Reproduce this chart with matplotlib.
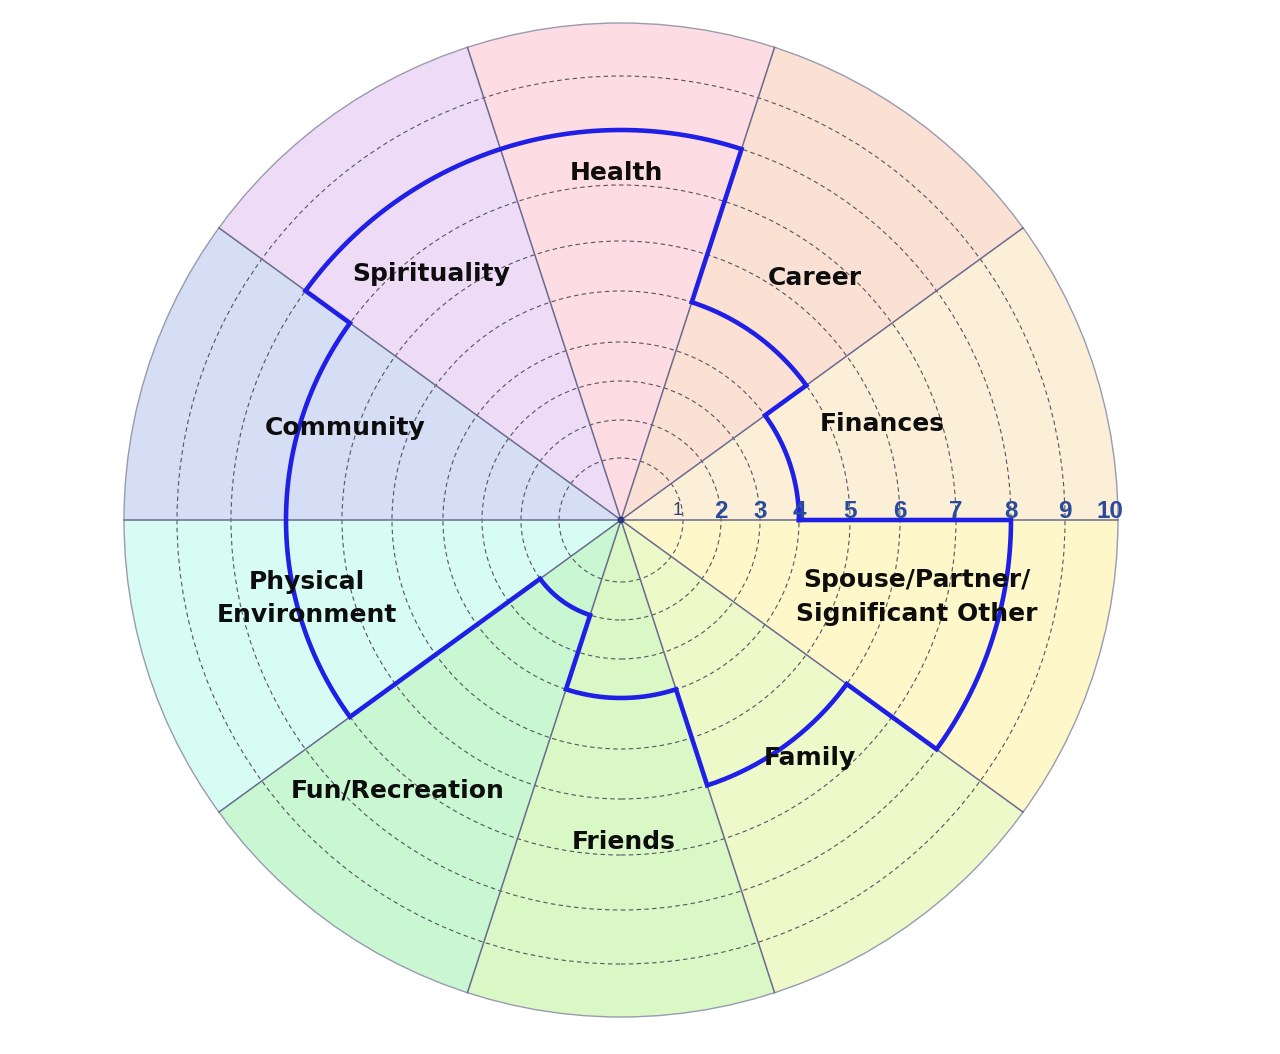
"""
Wheel of life: ten life areas scored 1-10, the score drawn as a closed blue
outline over coloured sectors with dashed rings.
"""

import numpy as np
import matplotlib
matplotlib.use("Agg")
import matplotlib.pyplot as plt
from matplotlib.patches import Wedge, Circle

# ──────────────────────────────────────────────
# Data (sectors counter-clockwise from 0 deg / 3 o'clock)
# ──────────────────────────────────────────────
AREAS = ["Finances", "Career", "Health", "Spirituality", "Community",
         "Physical\nEnvironment", "Fun/Recreation", "Friends", "Family",
         "Spouse/Partner/\nSignificant Other"]
SCORES = [4, 5, 8, 8, 7, 7, 2, 4, 6, 8]
LEVELS = [1, 2, 3, 4, 5, 6, 7, 8, 9, 10]
SECTOR_COLORS = ["#FCEFD8", "#FBE1D4", "#FDDDE3", "#EEDCF7", "#D5DEF4",
                 "#D7FCF4", "#C9F7D2", "#D9F8C6", "#EDF9C9", "#FDF7CA"]

# ──────────────────────────────────────────────
# Layout (pixels, y measured upward)
# ──────────────────────────────────────────────
W, H = 1280, 1054
CX, CY = 621, H - 520
# ring radii of the drawn scale (the original wheel is not evenly spaced)
RING_R = [62, 100, 139, 178, 229, 279, 335, 390, 444, 497]
# label centres as (angle deg, radius px)
LABEL_POS = [(20.2, 278), (51.4, 310), (90.7, 347), (127.7, 311), (161.6, 291),
             (194.0, 324), (230.5, 351), (270.5, 322), (308.5, 304), (345.4, 306)]

SPOKE_COLOR = "#6A6A8E"
LINE_BLUE = "#1F1FE6"
NUM_COLOR = "#2A4B9B"


def to_xy(angle_deg, r):
    a = np.deg2rad(angle_deg)
    return CX + r * np.cos(a), CY + r * np.sin(a)


def score_radius(s):
    return np.interp(s, LEVELS, RING_R)


fig = plt.figure(figsize=(W / 100, H / 100), dpi=100)
ax = fig.add_axes([0, 0, 1, 1])
ax.set_xlim(0, W)
ax.set_ylim(0, H)
ax.set_aspect("equal")
ax.axis("off")

n = len(AREAS)
step = 360 / n
R = RING_R[-1]

# coloured sectors
for i, color in enumerate(SECTOR_COLORS):
    ax.add_patch(Wedge((CX, CY), R, i * step, (i + 1) * step,
                       facecolor=color, edgecolor="none", zorder=1))

# dashed rings (outer one solid)
for r in RING_R[:-1]:
    ax.add_patch(Circle((CX, CY), r, fill=False, edgecolor="#55555f",
                        linewidth=0.8, linestyle=(0, (4, 3)), zorder=2))
ax.add_patch(Circle((CX, CY), R, fill=False, edgecolor="#9a9ab0",
                    linewidth=1.0, zorder=2))

# spokes
for i in range(n):
    x, y = to_xy(i * step, R)
    ax.plot([CX, x], [CY, y], color=SPOKE_COLOR, linewidth=1.1, zorder=3)

# score outline: an arc per sector, radial steps between them
xs, ys = [], []
for i, s in enumerate(SCORES):
    ang = np.linspace(i * step, (i + 1) * step, 60)
    px, py = to_xy(ang, score_radius(s))
    xs.extend(px)
    ys.extend(py)
xs.append(xs[0])
ys.append(ys[0])
ax.plot(xs, ys, color=LINE_BLUE, linewidth=3.3, solid_joinstyle="miter",
        zorder=4)

# area labels
for name, (ang, r) in zip(AREAS, LABEL_POS):
    x, y = to_xy(ang, r)
    ax.text(x, y, name, ha="center", va="center", fontsize=18,
            fontweight="bold", family="DejaVu Sans", color="#0d0d0d",
            linespacing=1.5, zorder=5)

# scale numbers along the 0 deg spoke
for lvl, r in zip(LEVELS, RING_R):
    if lvl == 1:
        ax.text(CX + r - 5, CY + 5, str(lvl), ha="center", va="baseline",
                fontsize=13, color="#33416e", family="Liberation Sans",
                zorder=5)
    else:
        dx = -8 if lvl == 10 else 0
        ax.text(CX + r + dx, CY + 2, str(lvl), ha="center", va="baseline",
                fontsize=17.5, fontweight="bold", color=NUM_COLOR,
                family="Liberation Sans", zorder=5)

# hub
ax.add_patch(Circle((CX, CY), 3.5, facecolor="#2B3A80", edgecolor="none",
                    zorder=6))

fig.savefig("out.png", dpi=100, facecolor="white")
